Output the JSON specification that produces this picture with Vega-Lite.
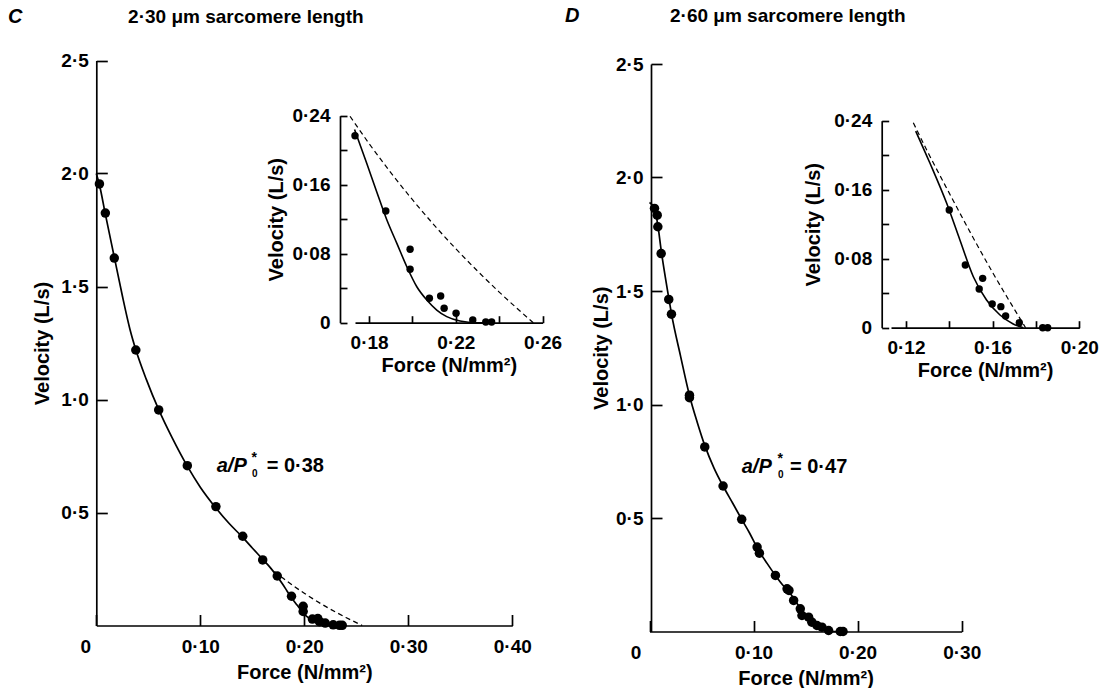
{
  "$schema": "https://vega.github.io/schema/vega-lite/v6.json",
  "width": 1109,
  "height": 688,
  "autosize": {"type": "none"},
  "padding": 0,
  "background": "white",
  "config": {
    "view": {"stroke": null},
    "axis": {
      "grid": false,
      "labelFont": "Liberation Sans", "labelFontWeight": "bold", "labelFontSize": 19, "labelColor": "black",
      "titleFont": "Liberation Sans", "titleFontWeight": "bold", "titleFontSize": 20, "titleColor": "black",
      "domainColor": "black", "domainWidth": 1.7, "tickColor": "black", "tickWidth": 1.7,
      "labelFlush": false, "labelOverlap": false, "labelBound": false
    },
    "text": {"font": "Liberation Sans", "color": "black"}
  },
  "datasets": {
    "C_pts": [
      {"P": 0.003, "V": 1.954}, {"P": 0.0087, "V": 1.825}, {"P": 0.0173, "V": 1.626}, {"P": 0.038, "V": 1.219},
      {"P": 0.060, "V": 0.954}, {"P": 0.0875, "V": 0.707}, {"P": 0.115, "V": 0.526}, {"P": 0.1408, "V": 0.395},
      {"P": 0.160, "V": 0.290}, {"P": 0.174, "V": 0.219}, {"P": 0.1877, "V": 0.1295}, {"P": 0.1989, "V": 0.0851},
      {"P": 0.1989, "V": 0.0619}, {"P": 0.2078, "V": 0.0283}, {"P": 0.2130, "V": 0.031}, {"P": 0.2146, "V": 0.0167},
      {"P": 0.2201, "V": 0.0109}, {"P": 0.2278, "V": 0.0031}, {"P": 0.2338, "V": 0.0008}, {"P": 0.2365, "V": 0.0008}
    ],
    "C_fit": [
      {"P": 0, "V": 2.0}, {"P": 0.003, "V": 1.95}, {"P": 0.0087, "V": 1.82}, {"P": 0.0173, "V": 1.63},
      {"P": 0.025, "V": 1.46}, {"P": 0.0324, "V": 1.31}, {"P": 0.038, "V": 1.22}, {"P": 0.048, "V": 1.09},
      {"P": 0.060, "V": 0.955}, {"P": 0.073, "V": 0.83}, {"P": 0.0875, "V": 0.705}, {"P": 0.10, "V": 0.612},
      {"P": 0.115, "V": 0.52}, {"P": 0.128, "V": 0.45}, {"P": 0.1408, "V": 0.39}, {"P": 0.150, "V": 0.343},
      {"P": 0.160, "V": 0.293}, {"P": 0.1675, "V": 0.255}, {"P": 0.1735, "V": 0.2196}, {"P": 0.1789, "V": 0.1848},
      {"P": 0.1835, "V": 0.1519}, {"P": 0.1882, "V": 0.1191}, {"P": 0.1928, "V": 0.092}, {"P": 0.1974, "V": 0.0649},
      {"P": 0.202, "V": 0.0417}, {"P": 0.2066, "V": 0.0263}, {"P": 0.2112, "V": 0.0147}, {"P": 0.2158, "V": 0.007},
      {"P": 0.2219, "V": 0.002}, {"P": 0.2296, "V": 0}, {"P": 0.236, "V": 0}
    ],
    "C_hill": [
      {"P": 0.1712, "V": 0.2394}, {"P": 0.18, "V": 0.2077}, {"P": 0.19, "V": 0.174}, {"P": 0.20, "V": 0.1426},
      {"P": 0.21, "V": 0.1132}, {"P": 0.22, "V": 0.0857}, {"P": 0.23, "V": 0.0599}, {"P": 0.24, "V": 0.0355},
      {"P": 0.25, "V": 0.0126}, {"P": 0.2557, "V": 0}
    ],
    "Ci_pts": [
      {"P": 0.1735, "V": 0.2168}, {"P": 0.1877, "V": 0.1295}, {"P": 0.1989, "V": 0.0851}, {"P": 0.1989, "V": 0.0619},
      {"P": 0.2078, "V": 0.0283}, {"P": 0.2130, "V": 0.031}, {"P": 0.2146, "V": 0.0167}, {"P": 0.2201, "V": 0.0109},
      {"P": 0.2278, "V": 0.0031}, {"P": 0.2338, "V": 0.0008}, {"P": 0.2365, "V": 0.0008}
    ],
    "Ci_fit": [
      {"P": 0.1733, "V": 0.224}, {"P": 0.1789, "V": 0.1848}, {"P": 0.1835, "V": 0.1519}, {"P": 0.1882, "V": 0.1191},
      {"P": 0.1928, "V": 0.092}, {"P": 0.1974, "V": 0.0649}, {"P": 0.202, "V": 0.0417}, {"P": 0.2066, "V": 0.0263},
      {"P": 0.2112, "V": 0.0147}, {"P": 0.2158, "V": 0.007}, {"P": 0.2219, "V": 0.002}, {"P": 0.2296, "V": 0},
      {"P": 0.236, "V": 0}
    ],
    "D_pts": [
      {"P": 0.0048, "V": 1.864}, {"P": 0.0074, "V": 1.834}, {"P": 0.008, "V": 1.783}, {"P": 0.0112, "V": 1.665},
      {"P": 0.0185, "V": 1.463}, {"P": 0.0211, "V": 1.398}, {"P": 0.0384, "V": 1.041}, {"P": 0.0384, "V": 1.030},
      {"P": 0.0531, "V": 0.813}, {"P": 0.0707, "V": 0.641}, {"P": 0.0886, "V": 0.494}, {"P": 0.1034, "V": 0.372},
      {"P": 0.1056, "V": 0.345}, {"P": 0.121, "V": 0.247}, {"P": 0.1322, "V": 0.188}, {"P": 0.134, "V": 0.181},
      {"P": 0.1385, "V": 0.137}, {"P": 0.1449, "V": 0.100}, {"P": 0.1465, "V": 0.0705}, {"P": 0.1529, "V": 0.063},
      {"P": 0.156, "V": 0.041}, {"P": 0.1609, "V": 0.0265}, {"P": 0.1657, "V": 0.019}, {"P": 0.1721, "V": 0.0044},
      {"P": 0.1833, "V": 0}, {"P": 0.186, "V": 0}
    ],
    "D_fit": [
      {"P": 0, "V": 1.89}, {"P": 0.0048, "V": 1.864}, {"P": 0.008, "V": 1.79}, {"P": 0.0112, "V": 1.68},
      {"P": 0.0185, "V": 1.47}, {"P": 0.0211, "V": 1.40}, {"P": 0.03, "V": 1.21}, {"P": 0.0384, "V": 1.04},
      {"P": 0.046, "V": 0.92}, {"P": 0.0531, "V": 0.82}, {"P": 0.062, "V": 0.72}, {"P": 0.0707, "V": 0.641},
      {"P": 0.08, "V": 0.565}, {"P": 0.0886, "V": 0.494}, {"P": 0.096, "V": 0.435}, {"P": 0.1045, "V": 0.36},
      {"P": 0.113, "V": 0.30}, {"P": 0.121, "V": 0.247}, {"P": 0.128, "V": 0.205}, {"P": 0.134, "V": 0.175},
      {"P": 0.1388, "V": 0.1442}, {"P": 0.1449, "V": 0.1017}, {"P": 0.1511, "V": 0.0591}, {"P": 0.1572, "V": 0.0321},
      {"P": 0.1634, "V": 0.0147}, {"P": 0.1695, "V": 0.0043}, {"P": 0.1741, "V": 0}, {"P": 0.186, "V": 0}
    ],
    "Di_pts": [
      {"P": 0.13998, "V": 0.1365}, {"P": 0.1474, "V": 0.0727}, {"P": 0.1554, "V": 0.0572}, {"P": 0.1538, "V": 0.0449},
      {"P": 0.1598, "V": 0.0275}, {"P": 0.1638, "V": 0.0244}, {"P": 0.166, "V": 0.0136}, {"P": 0.1723, "V": 0.0058},
      {"P": 0.1831, "V": 0}, {"P": 0.1854, "V": 0}
    ],
    "Di_fit": [
      {"P": 0.1245, "V": 0.228}, {"P": 0.1311, "V": 0.1906}, {"P": 0.1388, "V": 0.1442}, {"P": 0.1449, "V": 0.1017},
      {"P": 0.1511, "V": 0.0591}, {"P": 0.1572, "V": 0.0321}, {"P": 0.1634, "V": 0.0147}, {"P": 0.1695, "V": 0.0043},
      {"P": 0.1741, "V": 0}
    ],
    "Di_hill": [
      {"P": 0.1234, "V": 0.2375}, {"P": 0.13, "V": 0.204}, {"P": 0.14, "V": 0.156}, {"P": 0.15, "V": 0.109},
      {"P": 0.16, "V": 0.064}, {"P": 0.17, "V": 0.0215}, {"P": 0.1752, "V": 0}
    ]
  },
  "layer": [
    {
      "resolve": {"scale": {"x": "shared", "y": "shared"}, "axis": {"x": "shared", "y": "shared"}},
      "encoding": {
        "x": {"field": "P", "type": "quantitative",
          "scale": {"domain": [0, 0.4], "range": [96.3, 512.3], "nice": false, "zero": false},
          "axis": {"orient": "bottom", "offset": -62.5, "title": "Force (N/mm²)", "values": [0, 0.1, 0.2, 0.3, 0.4],
            "tickSize": -11, "labelPadding": 23, "titlePadding": 6,
            "labelExpr": "datum.value == 0 ? '0' : replace(format(datum.value, '.2f'), '.', '·')",
            "labelOffset": {"condition": {"test": "datum.value == 0", "value": -11}, "value": 0}}},
        "y": {"field": "V", "type": "quantitative",
          "scale": {"domain": [0, 2.5], "range": [625.5, 60.5], "nice": false, "zero": false},
          "axis": {"orient": "left", "offset": -96.3, "title": "Velocity (L/s)", "values": [0.5, 1, 1.5, 2, 2.5],
            "tickSize": -11, "labelPadding": 19, "titlePadding": 8,
            "labelExpr": "replace(format(datum.value, '.1f'), '.', '·')"}}
      },
      "layer": [
        {"data": {"name": "C_hill"}, "mark": {"type": "line", "color": "black", "strokeWidth": 1.3, "strokeDash": [5, 3.5], "interpolate": "monotone"}},
        {"data": {"name": "C_fit"}, "mark": {"type": "line", "color": "black", "strokeWidth": 1.7, "interpolate": "monotone"}},
        {"data": {"name": "C_pts"}, "mark": {"type": "circle", "size": 90, "color": "black", "opacity": 1}}
      ]
    },
    {
      "resolve": {"scale": {"x": "shared", "y": "shared"}, "axis": {"x": "shared", "y": "shared"}},
      "encoding": {
        "x": {"field": "P", "type": "quantitative",
          "scale": {"domain": [0.1735, 0.26], "range": [355, 542.6], "nice": false, "zero": false},
          "axis": {"orient": "bottom", "offset": -365.3, "title": "Force (N/mm²)", "values": [0.18, 0.2, 0.22, 0.24, 0.26],
            "tickSize": -7, "labelPadding": 18, "titlePadding": 3,
            "labelExpr": "round(datum.value * 100) % 4 == 2 ? replace(format(datum.value, '.2f'), '.', '·') : ''"}},
        "y": {"field": "V", "type": "quantitative",
          "scale": {"domain": [0, 0.24], "range": [322.7, 115.7], "nice": false, "zero": false},
          "axis": {"orient": "left", "offset": -340, "title": "Velocity (L/s)", "values": [0, 0.04, 0.08, 0.12, 0.16, 0.2, 0.24],
            "tickSize": -7, "labelPadding": 17, "titlePadding": 5,
            "labelExpr": "round(datum.value * 100) % 8 == 0 ? (datum.value == 0 ? '0' : replace(format(datum.value, '.2f'), '.', '·')) : ''"}}
      },
      "layer": [
        {"data": {"name": "C_hill"}, "mark": {"type": "line", "color": "black", "strokeWidth": 1.2, "strokeDash": [5, 3.5], "interpolate": "monotone"}},
        {"data": {"name": "Ci_fit"}, "mark": {"type": "line", "color": "black", "strokeWidth": 1.6, "interpolate": "monotone"}},
        {"data": {"name": "Ci_pts"}, "mark": {"type": "circle", "size": 55, "color": "black", "opacity": 1}}
      ]
    },
    {
      "resolve": {"scale": {"x": "shared", "y": "shared"}, "axis": {"x": "shared", "y": "shared"}},
      "encoding": {
        "x": {"field": "P", "type": "quantitative",
          "scale": {"domain": [0, 0.3], "range": [649.5, 961.7], "nice": false, "zero": false},
          "axis": {"orient": "bottom", "offset": -56.5, "title": "Force (N/mm²)", "values": [0, 0.1, 0.2, 0.3],
            "tickSize": -11, "labelPadding": 23, "titlePadding": 6,
            "labelExpr": "datum.value == 0 ? '0' : replace(format(datum.value, '.2f'), '.', '·')",
            "labelOffset": {"condition": {"test": "datum.value == 0", "value": -14}, "value": 0}}},
        "y": {"field": "V", "type": "quantitative",
          "scale": {"domain": [0, 2.5], "range": [631.5, 64], "nice": false, "zero": false},
          "axis": {"orient": "left", "offset": -651, "title": "Velocity (L/s)", "values": [0.5, 1, 1.5, 2, 2.5],
            "tickSize": -11, "labelPadding": 19, "titlePadding": 4,
            "labelExpr": "replace(format(datum.value, '.1f'), '.', '·')"}}
      },
      "layer": [
        {"data": {"name": "D_fit"}, "mark": {"type": "line", "color": "black", "strokeWidth": 1.7, "interpolate": "monotone"}},
        {"data": {"name": "D_pts"}, "mark": {"type": "circle", "size": 90, "color": "black", "opacity": 1}}
      ]
    },
    {
      "resolve": {"scale": {"x": "shared", "y": "shared"}, "axis": {"x": "shared", "y": "shared"}},
      "encoding": {
        "x": {"field": "P", "type": "quantitative",
          "scale": {"domain": [0.1131, 0.20], "range": [891, 1079.3], "nice": false, "zero": false},
          "axis": {"orient": "bottom", "offset": -360.3, "title": "Force (N/mm²)", "values": [0.12, 0.14, 0.16, 0.18, 0.2],
            "tickSize": -7, "labelPadding": 18, "titlePadding": 3,
            "labelExpr": "round(datum.value * 100) % 4 == 0 ? replace(format(datum.value, '.2f'), '.', '·') : ''"}},
        "y": {"field": "V", "type": "quantitative",
          "scale": {"domain": [0, 0.24], "range": [327.7, 120.7], "nice": false, "zero": false},
          "axis": {"orient": "left", "offset": -881.7, "title": "Velocity (L/s)", "values": [0, 0.04, 0.08, 0.12, 0.16, 0.2, 0.24],
            "tickSize": -7, "labelPadding": 17, "titlePadding": 10,
            "labelExpr": "round(datum.value * 100) % 8 == 0 ? (datum.value == 0 ? '0' : replace(format(datum.value, '.2f'), '.', '·')) : ''"}}
      },
      "layer": [
        {"data": {"name": "Di_hill"}, "mark": {"type": "line", "color": "black", "strokeWidth": 1.2, "strokeDash": [5, 3.5], "interpolate": "monotone"}},
        {"data": {"name": "Di_fit"}, "mark": {"type": "line", "color": "black", "strokeWidth": 1.6, "interpolate": "monotone"}},
        {"data": {"name": "Di_pts"}, "mark": {"type": "circle", "size": 55, "color": "black", "opacity": 1}}
      ]
    },
    {
      "data": {"values": [{}]},
      "layer": [
        {"mark": {"type": "text", "text": "C", "fontSize": 20, "fontStyle": "italic", "fontWeight": "bold", "align": "left", "baseline": "alphabetic"},
          "encoding": {
            "x": {"datum": -0.0849, "type": "quantitative", "axis": null, "scale": {"domain": [0, 0.4], "range": [96.3, 512.3], "nice": false, "zero": false}},
            "y": {"datum": 2.666, "type": "quantitative", "axis": null, "scale": {"domain": [0, 2.5], "range": [625.5, 60.5], "nice": false, "zero": false}}}},
        {"mark": {"type": "text", "text": "2·30 μm sarcomere length", "fontSize": 19, "fontWeight": "bold", "align": "left", "baseline": "alphabetic"},
          "encoding": {
            "x": {"datum": 0.0306, "type": "quantitative", "axis": null, "scale": {"domain": [0, 0.4], "range": [96.3, 512.3], "nice": false, "zero": false}},
            "y": {"datum": 2.666, "type": "quantitative", "axis": null, "scale": {"domain": [0, 2.5], "range": [625.5, 60.5], "nice": false, "zero": false}}}},
        {"mark": {"type": "text", "text": "a/P", "fontSize": 20, "fontStyle": "italic", "fontWeight": "bold", "align": "left", "baseline": "alphabetic"},
          "encoding": {
            "x": {"datum": 0.1158, "type": "quantitative", "axis": null, "scale": {"domain": [0, 0.4], "range": [96.3, 512.3], "nice": false, "zero": false}},
            "y": {"datum": 0.679, "type": "quantitative", "axis": null, "scale": {"domain": [0, 2.5], "range": [625.5, 60.5], "nice": false, "zero": false}}}},
        {"mark": {"type": "text", "text": "*", "fontSize": 14, "fontWeight": "bold", "align": "left", "baseline": "alphabetic"},
          "encoding": {
            "x": {"datum": 0.1492, "type": "quantitative", "axis": null, "scale": {"domain": [0, 0.4], "range": [96.3, 512.3], "nice": false, "zero": false}},
            "y": {"datum": 0.7235, "type": "quantitative", "axis": null, "scale": {"domain": [0, 2.5], "range": [625.5, 60.5], "nice": false, "zero": false}}}},
        {"mark": {"type": "text", "text": "0", "fontSize": 10, "fontWeight": "bold", "align": "left", "baseline": "alphabetic"},
          "encoding": {
            "x": {"datum": 0.1497, "type": "quantitative", "axis": null, "scale": {"domain": [0, 0.4], "range": [96.3, 512.3], "nice": false, "zero": false}},
            "y": {"datum": 0.657, "type": "quantitative", "axis": null, "scale": {"domain": [0, 2.5], "range": [625.5, 60.5], "nice": false, "zero": false}}}},
        {"mark": {"type": "text", "text": "= 0·38", "fontSize": 20, "fontWeight": "bold", "align": "left", "baseline": "alphabetic"},
          "encoding": {
            "x": {"datum": 0.1638, "type": "quantitative", "axis": null, "scale": {"domain": [0, 0.4], "range": [96.3, 512.3], "nice": false, "zero": false}},
            "y": {"datum": 0.679, "type": "quantitative", "axis": null, "scale": {"domain": [0, 2.5], "range": [625.5, 60.5], "nice": false, "zero": false}}}}
      ]
    },
    {
      "data": {"values": [{}]},
      "layer": [
        {"mark": {"type": "text", "text": "D", "fontSize": 20, "fontStyle": "italic", "fontWeight": "bold", "align": "left", "baseline": "alphabetic"},
          "encoding": {
            "x": {"datum": -0.0812, "type": "quantitative", "axis": null, "scale": {"domain": [0, 0.3], "range": [649.5, 961.7], "nice": false, "zero": false}},
            "y": {"datum": 2.683, "type": "quantitative", "axis": null, "scale": {"domain": [0, 2.5], "range": [631.5, 64], "nice": false, "zero": false}}}},
        {"mark": {"type": "text", "text": "2·60 μm sarcomere length", "fontSize": 19, "fontWeight": "bold", "align": "left", "baseline": "alphabetic"},
          "encoding": {
            "x": {"datum": 0.0197, "type": "quantitative", "axis": null, "scale": {"domain": [0, 0.3], "range": [649.5, 961.7], "nice": false, "zero": false}},
            "y": {"datum": 2.683, "type": "quantitative", "axis": null, "scale": {"domain": [0, 2.5], "range": [631.5, 64], "nice": false, "zero": false}}}},
        {"mark": {"type": "text", "text": "a/P", "fontSize": 20, "fontStyle": "italic", "fontWeight": "bold", "align": "left", "baseline": "alphabetic"},
          "encoding": {
            "x": {"datum": 0.0886, "type": "quantitative", "axis": null, "scale": {"domain": [0, 0.3], "range": [649.5, 961.7], "nice": false, "zero": false}},
            "y": {"datum": 0.699, "type": "quantitative", "axis": null, "scale": {"domain": [0, 2.5], "range": [631.5, 64], "nice": false, "zero": false}}}},
        {"mark": {"type": "text", "text": "*", "fontSize": 14, "fontWeight": "bold", "align": "left", "baseline": "alphabetic"},
          "encoding": {
            "x": {"datum": 0.123, "type": "quantitative", "axis": null, "scale": {"domain": [0, 0.3], "range": [649.5, 961.7], "nice": false, "zero": false}},
            "y": {"datum": 0.743, "type": "quantitative", "axis": null, "scale": {"domain": [0, 2.5], "range": [631.5, 64], "nice": false, "zero": false}}}},
        {"mark": {"type": "text", "text": "0", "fontSize": 10, "fontWeight": "bold", "align": "left", "baseline": "alphabetic"},
          "encoding": {
            "x": {"datum": 0.1235, "type": "quantitative", "axis": null, "scale": {"domain": [0, 0.3], "range": [649.5, 961.7], "nice": false, "zero": false}},
            "y": {"datum": 0.677, "type": "quantitative", "axis": null, "scale": {"domain": [0, 2.5], "range": [631.5, 64], "nice": false, "zero": false}}}},
        {"mark": {"type": "text", "text": "= 0·47", "fontSize": 20, "fontWeight": "bold", "align": "left", "baseline": "alphabetic"},
          "encoding": {
            "x": {"datum": 0.135, "type": "quantitative", "axis": null, "scale": {"domain": [0, 0.3], "range": [649.5, 961.7], "nice": false, "zero": false}},
            "y": {"datum": 0.699, "type": "quantitative", "axis": null, "scale": {"domain": [0, 2.5], "range": [631.5, 64], "nice": false, "zero": false}}}}
      ]
    }
  ],
  "resolve": {
    "scale": {"x": "independent", "y": "independent"},
    "axis": {"x": "independent", "y": "independent"}
  }
}
